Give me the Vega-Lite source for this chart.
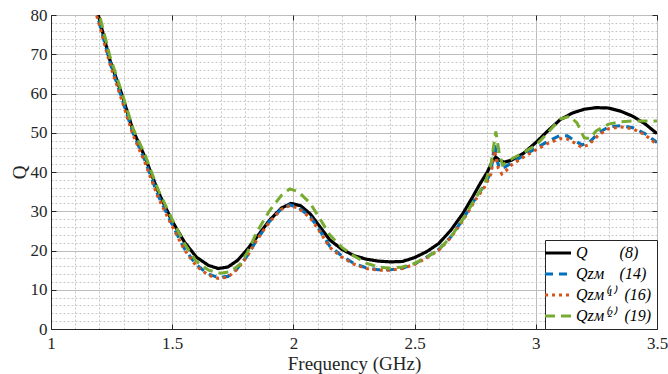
{
  "$schema": "https://vega.github.io/schema/vega-lite/v6.json",
  "width": 606,
  "height": 314,
  "autosize": {"type": "none"},
  "padding": {"left": 51, "top": 15, "right": 11, "bottom": 45},
  "config": {
    "font": "Liberation Serif",
    "view": {"stroke": "#262626", "strokeWidth": 1},
    "background": "white"
  },
  "data": {
    "values": [
      {"s": "Q", "f": 1.18, "q": 82.5}, {"s": "Q", "f": 1.195, "q": 80}, {"s": "Q", "f": 1.243, "q": 68.5}, {"s": "Q", "f": 1.291, "q": 60}, {"s": "Q", "f": 1.339, "q": 50.5}, {"s": "Q", "f": 1.387, "q": 43.9}, {"s": "Q", "f": 1.442, "q": 35}, {"s": "Q", "f": 1.497, "q": 27.8}, {"s": "Q", "f": 1.55, "q": 22.2}, {"s": "Q", "f": 1.6, "q": 18.3}, {"s": "Q", "f": 1.65, "q": 16.2}, {"s": "Q", "f": 1.69, "q": 15.4}, {"s": "Q", "f": 1.73, "q": 15.8}, {"s": "Q", "f": 1.77, "q": 17.5}, {"s": "Q", "f": 1.81, "q": 20.3}, {"s": "Q", "f": 1.85, "q": 23.5}, {"s": "Q", "f": 1.9, "q": 27.6}, {"s": "Q", "f": 1.95, "q": 30.8}, {"s": "Q", "f": 1.99, "q": 32}, {"s": "Q", "f": 2.03, "q": 31.4}, {"s": "Q", "f": 2.07, "q": 29.3}, {"s": "Q", "f": 2.11, "q": 26}, {"s": "Q", "f": 2.15, "q": 22.7}, {"s": "Q", "f": 2.2, "q": 20.3}, {"s": "Q", "f": 2.25, "q": 18.7}, {"s": "Q", "f": 2.3, "q": 17.8}, {"s": "Q", "f": 2.35, "q": 17.3}, {"s": "Q", "f": 2.4, "q": 17.1}, {"s": "Q", "f": 2.45, "q": 17.2}, {"s": "Q", "f": 2.5, "q": 18.2}, {"s": "Q", "f": 2.55, "q": 19.7}, {"s": "Q", "f": 2.6, "q": 21.8}, {"s": "Q", "f": 2.65, "q": 25.2}, {"s": "Q", "f": 2.7, "q": 29.5}, {"s": "Q", "f": 2.74, "q": 33.7}, {"s": "Q", "f": 2.77, "q": 37}, {"s": "Q", "f": 2.8, "q": 40}, {"s": "Q", "f": 2.82, "q": 42.6}, {"s": "Q", "f": 2.835, "q": 43.8}, {"s": "Q", "f": 2.85, "q": 43}, {"s": "Q", "f": 2.87, "q": 42.5}, {"s": "Q", "f": 2.9, "q": 43}, {"s": "Q", "f": 2.95, "q": 44.8}, {"s": "Q", "f": 3.0, "q": 47.5}, {"s": "Q", "f": 3.05, "q": 50.5}, {"s": "Q", "f": 3.1, "q": 53.3}, {"s": "Q", "f": 3.15, "q": 55}, {"s": "Q", "f": 3.2, "q": 56}, {"s": "Q", "f": 3.25, "q": 56.4}, {"s": "Q", "f": 3.3, "q": 56.3}, {"s": "Q", "f": 3.35, "q": 55.5}, {"s": "Q", "f": 3.4, "q": 54.2}, {"s": "Q", "f": 3.45, "q": 52.3}, {"s": "Q", "f": 3.5, "q": 49.8},

      {"s": "QZM", "f": 1.18, "q": 82}, {"s": "QZM", "f": 1.195, "q": 79}, {"s": "QZM", "f": 1.243, "q": 68}, {"s": "QZM", "f": 1.291, "q": 59}, {"s": "QZM", "f": 1.339, "q": 49.8}, {"s": "QZM", "f": 1.387, "q": 43}, {"s": "QZM", "f": 1.442, "q": 34}, {"s": "QZM", "f": 1.497, "q": 27}, {"s": "QZM", "f": 1.55, "q": 20.5}, {"s": "QZM", "f": 1.6, "q": 16.3}, {"s": "QZM", "f": 1.65, "q": 14}, {"s": "QZM", "f": 1.69, "q": 13.1}, {"s": "QZM", "f": 1.73, "q": 13.4}, {"s": "QZM", "f": 1.77, "q": 15.5}, {"s": "QZM", "f": 1.81, "q": 18.7}, {"s": "QZM", "f": 1.85, "q": 22.8}, {"s": "QZM", "f": 1.9, "q": 27.3}, {"s": "QZM", "f": 1.95, "q": 30.6}, {"s": "QZM", "f": 1.985, "q": 31.6}, {"s": "QZM", "f": 2.02, "q": 31}, {"s": "QZM", "f": 2.07, "q": 28.6}, {"s": "QZM", "f": 2.11, "q": 25}, {"s": "QZM", "f": 2.15, "q": 21.1}, {"s": "QZM", "f": 2.2, "q": 18.6}, {"s": "QZM", "f": 2.25, "q": 16.7}, {"s": "QZM", "f": 2.3, "q": 15.6}, {"s": "QZM", "f": 2.35, "q": 15.1}, {"s": "QZM", "f": 2.4, "q": 15.1}, {"s": "QZM", "f": 2.45, "q": 15.5}, {"s": "QZM", "f": 2.5, "q": 16.6}, {"s": "QZM", "f": 2.55, "q": 18.3}, {"s": "QZM", "f": 2.6, "q": 20.3}, {"s": "QZM", "f": 2.65, "q": 23.5}, {"s": "QZM", "f": 2.7, "q": 28}, {"s": "QZM", "f": 2.75, "q": 33.2}, {"s": "QZM", "f": 2.79, "q": 36.8}, {"s": "QZM", "f": 2.815, "q": 40}, {"s": "QZM", "f": 2.83, "q": 47.3}, {"s": "QZM", "f": 2.84, "q": 43}, {"s": "QZM", "f": 2.85, "q": 40.9}, {"s": "QZM", "f": 2.87, "q": 41.2}, {"s": "QZM", "f": 2.9, "q": 42.3}, {"s": "QZM", "f": 2.95, "q": 44.2}, {"s": "QZM", "f": 3.0, "q": 46}, {"s": "QZM", "f": 3.05, "q": 47.8}, {"s": "QZM", "f": 3.1, "q": 49.3}, {"s": "QZM", "f": 3.13, "q": 49.2}, {"s": "QZM", "f": 3.16, "q": 48}, {"s": "QZM", "f": 3.19, "q": 46.9}, {"s": "QZM", "f": 3.22, "q": 47.5}, {"s": "QZM", "f": 3.26, "q": 50}, {"s": "QZM", "f": 3.3, "q": 51.5}, {"s": "QZM", "f": 3.35, "q": 51.8}, {"s": "QZM", "f": 3.4, "q": 51.3}, {"s": "QZM", "f": 3.45, "q": 49.8}, {"s": "QZM", "f": 3.5, "q": 47.5},

      {"s": "QZM1", "f": 1.18, "q": 81.5}, {"s": "QZM1", "f": 1.195, "q": 78.5}, {"s": "QZM1", "f": 1.243, "q": 67.5}, {"s": "QZM1", "f": 1.291, "q": 58.5}, {"s": "QZM1", "f": 1.339, "q": 49.3}, {"s": "QZM1", "f": 1.387, "q": 42.5}, {"s": "QZM1", "f": 1.442, "q": 33.5}, {"s": "QZM1", "f": 1.497, "q": 26.5}, {"s": "QZM1", "f": 1.55, "q": 20.2}, {"s": "QZM1", "f": 1.6, "q": 16}, {"s": "QZM1", "f": 1.65, "q": 13.7}, {"s": "QZM1", "f": 1.69, "q": 12.9}, {"s": "QZM1", "f": 1.73, "q": 13.2}, {"s": "QZM1", "f": 1.77, "q": 15.3}, {"s": "QZM1", "f": 1.81, "q": 18.6}, {"s": "QZM1", "f": 1.85, "q": 22.8}, {"s": "QZM1", "f": 1.9, "q": 27.2}, {"s": "QZM1", "f": 1.95, "q": 30.5}, {"s": "QZM1", "f": 1.985, "q": 31.4}, {"s": "QZM1", "f": 2.02, "q": 30.8}, {"s": "QZM1", "f": 2.07, "q": 28.3}, {"s": "QZM1", "f": 2.11, "q": 24.7}, {"s": "QZM1", "f": 2.15, "q": 20.8}, {"s": "QZM1", "f": 2.2, "q": 18.3}, {"s": "QZM1", "f": 2.25, "q": 16.5}, {"s": "QZM1", "f": 2.3, "q": 15.4}, {"s": "QZM1", "f": 2.35, "q": 15}, {"s": "QZM1", "f": 2.4, "q": 15}, {"s": "QZM1", "f": 2.45, "q": 15.4}, {"s": "QZM1", "f": 2.5, "q": 16.5}, {"s": "QZM1", "f": 2.55, "q": 18.1}, {"s": "QZM1", "f": 2.6, "q": 20.1}, {"s": "QZM1", "f": 2.65, "q": 23.3}, {"s": "QZM1", "f": 2.7, "q": 27.7}, {"s": "QZM1", "f": 2.75, "q": 32.8}, {"s": "QZM1", "f": 2.79, "q": 36.3}, {"s": "QZM1", "f": 2.815, "q": 39.5}, {"s": "QZM1", "f": 2.83, "q": 45.5}, {"s": "QZM1", "f": 2.845, "q": 41}, {"s": "QZM1", "f": 2.86, "q": 39.5}, {"s": "QZM1", "f": 2.88, "q": 40.5}, {"s": "QZM1", "f": 2.9, "q": 41.8}, {"s": "QZM1", "f": 2.95, "q": 43.8}, {"s": "QZM1", "f": 3.0, "q": 45.6}, {"s": "QZM1", "f": 3.05, "q": 47.3}, {"s": "QZM1", "f": 3.1, "q": 48.5}, {"s": "QZM1", "f": 3.13, "q": 48.4}, {"s": "QZM1", "f": 3.16, "q": 47.4}, {"s": "QZM1", "f": 3.19, "q": 46.3}, {"s": "QZM1", "f": 3.22, "q": 47}, {"s": "QZM1", "f": 3.26, "q": 49.5}, {"s": "QZM1", "f": 3.3, "q": 51}, {"s": "QZM1", "f": 3.35, "q": 51.5}, {"s": "QZM1", "f": 3.4, "q": 51}, {"s": "QZM1", "f": 3.45, "q": 49.5}, {"s": "QZM1", "f": 3.5, "q": 47},

      {"s": "QZM2", "f": 1.18, "q": 83}, {"s": "QZM2", "f": 1.2, "q": 80}, {"s": "QZM2", "f": 1.243, "q": 69.5}, {"s": "QZM2", "f": 1.291, "q": 60.5}, {"s": "QZM2", "f": 1.339, "q": 51}, {"s": "QZM2", "f": 1.387, "q": 44.5}, {"s": "QZM2", "f": 1.442, "q": 35.5}, {"s": "QZM2", "f": 1.497, "q": 28.3}, {"s": "QZM2", "f": 1.55, "q": 21.8}, {"s": "QZM2", "f": 1.6, "q": 17.2}, {"s": "QZM2", "f": 1.65, "q": 15}, {"s": "QZM2", "f": 1.7, "q": 14.2}, {"s": "QZM2", "f": 1.74, "q": 14.6}, {"s": "QZM2", "f": 1.78, "q": 16.5}, {"s": "QZM2", "f": 1.81, "q": 19.5}, {"s": "QZM2", "f": 1.85, "q": 24.8}, {"s": "QZM2", "f": 1.9, "q": 30}, {"s": "QZM2", "f": 1.95, "q": 34}, {"s": "QZM2", "f": 1.985, "q": 35.7}, {"s": "QZM2", "f": 2.02, "q": 35}, {"s": "QZM2", "f": 2.07, "q": 32}, {"s": "QZM2", "f": 2.11, "q": 28}, {"s": "QZM2", "f": 2.15, "q": 24}, {"s": "QZM2", "f": 2.2, "q": 20.8}, {"s": "QZM2", "f": 2.25, "q": 18.6}, {"s": "QZM2", "f": 2.3, "q": 16.8}, {"s": "QZM2", "f": 2.35, "q": 15.8}, {"s": "QZM2", "f": 2.4, "q": 15.5}, {"s": "QZM2", "f": 2.45, "q": 15.8}, {"s": "QZM2", "f": 2.5, "q": 16.7}, {"s": "QZM2", "f": 2.55, "q": 18.3}, {"s": "QZM2", "f": 2.6, "q": 20.2}, {"s": "QZM2", "f": 2.65, "q": 23.5}, {"s": "QZM2", "f": 2.7, "q": 28}, {"s": "QZM2", "f": 2.75, "q": 33.2}, {"s": "QZM2", "f": 2.79, "q": 37}, {"s": "QZM2", "f": 2.815, "q": 42}, {"s": "QZM2", "f": 2.835, "q": 50.3}, {"s": "QZM2", "f": 2.85, "q": 44.5}, {"s": "QZM2", "f": 2.863, "q": 41.8}, {"s": "QZM2", "f": 2.9, "q": 43.3}, {"s": "QZM2", "f": 2.95, "q": 45}, {"s": "QZM2", "f": 3.0, "q": 46.8}, {"s": "QZM2", "f": 3.05, "q": 50}, {"s": "QZM2", "f": 3.1, "q": 53.5}, {"s": "QZM2", "f": 3.14, "q": 54.2}, {"s": "QZM2", "f": 3.17, "q": 52.5}, {"s": "QZM2", "f": 3.2, "q": 48.7}, {"s": "QZM2", "f": 3.22, "q": 48.5}, {"s": "QZM2", "f": 3.25, "q": 50.5}, {"s": "QZM2", "f": 3.3, "q": 52.2}, {"s": "QZM2", "f": 3.35, "q": 52.8}, {"s": "QZM2", "f": 3.4, "q": 53}, {"s": "QZM2", "f": 3.45, "q": 53}, {"s": "QZM2", "f": 3.5, "q": 53}
    ]
  },
  "layer": [
    {
      "mark": {"type": "point", "opacity": 0},
      "encoding": {
        "x": {"field": "f", "type": "quantitative", "scale": {"domain": [1, 3.5], "nice": false, "zero": false},
          "axis": {"orient": "top", "values": [1.1,1.2,1.3,1.4,1.6,1.7,1.8,1.9,2.1,2.2,2.3,2.4,2.6,2.7,2.8,2.9,3.1,3.2,3.3,3.4],
            "grid": true, "gridColor": "#c8c8c8", "gridDash": [2, 2], "gridWidth": 1, "labels": false, "ticks": false, "domain": false, "title": null}},
        "y": {"field": "q", "type": "quantitative", "scale": {"domain": [0, 80], "nice": false},
          "axis": {"orient": "right", "values": [2,4,6,8,12,14,16,18,22,24,26,28,32,34,36,38,42,44,46,48,52,54,56,58,62,64,66,68,72,74,76,78],
            "grid": true, "gridColor": "#c8c8c8", "gridDash": [2, 2], "gridWidth": 1, "labels": false, "ticks": false, "domain": false, "title": null}}
      }
    },
    {
      "mark": {"type": "line", "clip": true},
      "encoding": {
        "x": {"field": "f", "type": "quantitative", "scale": {"domain": [1, 3.5], "nice": false, "zero": false},
          "axis": {"orient": "bottom", "values": [1, 1.5, 2, 2.5, 3, 3.5], "format": "~g", "grid": true, "gridColor": "#bdbdbd", "gridWidth": 1,
            "title": "Frequency (GHz)", "titleFont": "Liberation Serif", "titleFontSize": 19, "titleFontWeight": "normal", "titleColor": "#262626", "titlePadding": 3,
            "labelFont": "Liberation Serif", "labelFontSize": 17, "labelColor": "#262626", "labelPadding": 11, "tickSize": -5, "tickColor": "#262626", "domainColor": "#262626", "labelFlush": false}},
        "y": {"field": "q", "type": "quantitative", "scale": {"domain": [0, 80], "nice": false},
          "axis": {"orient": "left", "values": [0, 10, 20, 30, 40, 50, 60, 70, 80], "grid": true, "gridColor": "#bdbdbd", "gridWidth": 1,
            "title": "Q", "titleFont": "Liberation Serif", "titleFontSize": 19, "titleFontWeight": "normal", "titleColor": "#262626", "titlePadding": 1,
            "labelFont": "Liberation Serif", "labelFontSize": 17, "labelColor": "#262626", "labelPadding": 9, "tickSize": -5, "tickColor": "#262626", "domainColor": "#262626", "labelFlush": false}},
        "color": {"field": "s", "type": "nominal",
          "scale": {"domain": ["Q", "QZM", "QZM1", "QZM2"], "range": ["#000000", "#0072BD", "#D95319", "#77AC30"]},
          "legend": {"title": null, "orient": "bottom-right", "offset": 0, "strokeColor": "#262626", "fillColor": "white", "padding": 5, "rowPadding": 5,
            "symbolType": "M-2.6,0H2.6", "symbolSize": 100, "symbolStrokeWidth": 3.5, "symbolFillColor": "transparent",
            "labelFont": "Liberation Serif", "labelFontSize": 16, "labelFontStyle": "italic", "labelColor": "#000000", "labelLimit": 200, "labelOffset": 10,
            "labelExpr": "datum.label == 'Q' ? 'Q\u2002\u2002\u2002\u2002(8)' : datum.label == 'QZM' ? 'Q\u1d22\u1d0d\u2002\u2002(14)' : datum.label == 'QZM1' ? 'Q\u1d22\u1d0d\u207d\u00b9\u207e\u2002(16)' : 'Q\u1d22\u1d0d\u207d\u00b2\u207e\u2002(19)'"}},
        "strokeDash": {"field": "s", "type": "nominal",
          "scale": {"domain": ["Q", "QZM", "QZM1", "QZM2"], "range": [[1, 0], [8, 6], [3, 4], [10, 6]]},
          "legend": {"title": null}},
        "strokeWidth": {"field": "s", "type": "nominal",
          "scale": {"domain": ["Q", "QZM", "QZM1", "QZM2"], "range": [3.2, 3, 3.5, 4.5]},
          "legend": null}
      }
    },
    {
      "mark": {"type": "point", "opacity": 0},
      "encoding": {
        "x": {"field": "f", "type": "quantitative",
          "axis": {"orient": "top", "values": [1, 1.5, 2, 2.5, 3, 3.5], "grid": false, "labels": false, "ticks": true, "tickSize": -5, "tickColor": "#262626", "domain": false, "title": null}},
        "y": {"field": "q", "type": "quantitative",
          "axis": {"orient": "right", "values": [0, 10, 20, 30, 40, 50, 60, 70, 80], "grid": false, "labels": false, "ticks": true, "tickSize": -5, "tickColor": "#262626", "domain": false, "title": null}}
      }
    }
  ],
  "resolve": {"axis": {"x": "independent", "y": "independent"}}
}
